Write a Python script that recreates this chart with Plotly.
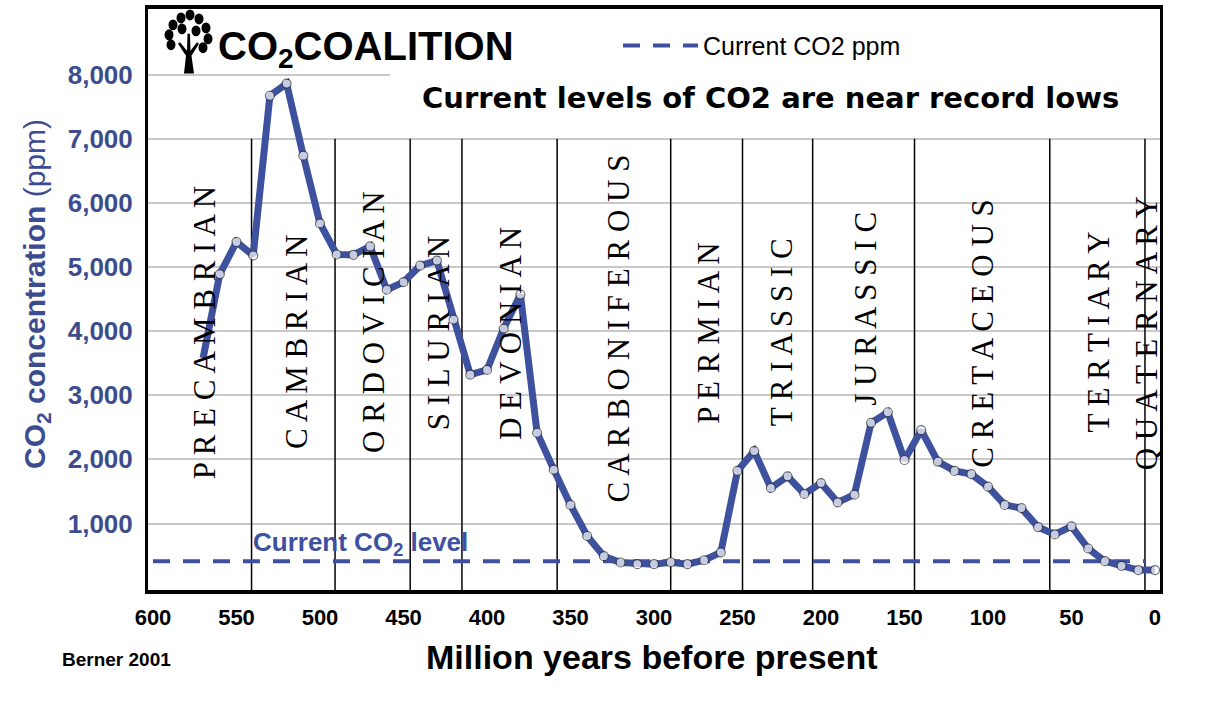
import plotly.graph_objects as go

# Berner 2001 CO2 reconstruction (million years ago / ppm)
ages = [570, 560, 550, 540, 530, 520, 510, 500, 490, 480,
        470, 460, 450, 440, 430, 420, 410, 400, 390, 380,
        370, 360, 350, 340, 330, 320, 310, 300, 290, 280,
        270, 260, 250, 240, 230, 220, 210, 200, 190, 180,
        170, 160, 150, 140, 130, 120, 110, 100, 90, 80,
        70, 60, 50, 40, 30, 20, 10, 0]
co2_ppm = [3580, 4890, 5390, 5180, 7670, 7860, 6735, 5680, 5195, 5190,
           5320, 4645, 4765, 5020, 5100, 4180, 3320, 3395, 4040, 4570,
           2415, 1840, 1290, 805, 490, 392, 366, 366, 396, 366,
           427, 550, 1820, 2130, 1555, 1735, 1460, 1630, 1330, 1450,
           2570, 2735, 1990, 2455, 1965, 1820, 1770, 1575, 1290, 1240,
           945, 830, 955, 610, 412, 340, 273, 273]

current_co2 = 410
current_span = [600, 6]

period_names = ['PRECAMBRIAN', 'CAMBRIAN', 'ORDOVICIAN', 'SILURIAN', 'DEVONIAN',
                'CARBONIFEROUS', 'PERMIAN', 'TRIASSIC', 'JURASSIC', 'CRETACEOUS',
                'TERTIARY', 'QUATERNARY']
period_bounds = [541, 491, 446, 415, 358, 290, 247, 205, 144, 63, 6]

x_ticks = [600, 550, 500, 450, 400, 350, 300, 250, 200, 150, 100, 50, 0]
y_ticks = [1000, 2000, 3000, 4000, 5000, 6000, 7000, 8000]

BLUE = '#3e519e'
TEXT_BLUE = '#3d4c8f'
SANS = 'Liberation Sans, Arial, sans-serif'

# where each period name sits (age, ppm)
label_pos = {
    'PRECAMBRIAN': (569, 3980), 'CAMBRIAN': (514, 3840), 'ORDOVICIAN': (468, 4150),
    'SILURIAN': (429, 3960), 'DEVONIAN': (386, 3960), 'CARBONIFEROUS': (321, 4040),
    'PERMIAN': (267, 3960), 'TRIASSIC': (224, 3980), 'JURASSIC': (173, 4350),
    'CRETACEOUS': (103, 3960), 'TERTIARY': (34, 3980), 'QUATERNARY': (5, 3960),
}

# plot area in pixels (for placing the logo and texts)
L, R, T, B = 148, 1160, 5, 590


def px_x(px):
    return (px - L) / (R - L)


def px_y(py):
    return (B - py) / (B - T)


fig = go.Figure()

fig.add_trace(go.Scatter(
    x=current_span, y=[current_co2] * len(current_span),
    mode='lines', name='Current CO2 ppm',
    line=dict(color=BLUE, width=4, dash='17px,13px'),
    hoverinfo='skip'
))

fig.add_trace(go.Scatter(
    x=ages, y=co2_ppm, mode='lines+markers', showlegend=False,
    line=dict(color=BLUE, width=7),
    marker=dict(size=[0] + [9] * (len(ages) - 1), color='white',
                line=dict(color='#333333', width=1.2)),
    name='CO2'
))

shapes = []
# hide the 8,000 gridline behind the title box
shapes.append(dict(type='rect', xref='x', yref='y', x0=458, x1=-3, y0=7500, y1=8600,
                   fillcolor='white', line=dict(width=0), layer='between'))
for b in period_bounds:
    shapes.append(dict(type='line', xref='x', yref='y', x0=b, x1=b, y0=-40, y1=7000,
                       line=dict(color='black', width=1.5), layer='between'))

# tree logo
trunk = [(184, 70), (194, 70), (191.5, 52), (199, 40), (197, 38.5), (190.5, 47),
         (190, 30), (187.5, 30), (187, 47), (180, 38.5), (178, 40), (186, 52)]
path = 'M' + 'L'.join(f'{px_x(a):.5f},{px_y(b):.5f}' for a, b in trunk) + 'Z'
shapes.append(dict(type='path', xref='paper', yref='paper', path=path,
                   fillcolor='black', line=dict(width=0)))
leaves = [(169, 31), (173, 21), (181, 14), (190, 11), (199, 15), (206, 24),
          (208, 35), (171, 41), (196, 27), (182, 25), (203, 44)]
for cx, cy in leaves:
    shapes.append(dict(type='circle', xref='paper', yref='paper',
                       x0=px_x(cx - 4.5), x1=px_x(cx + 4.5),
                       y0=px_y(cy + 5.5), y1=px_y(cy - 5.5),
                       fillcolor='black', line=dict(width=0)))

annotations = []
for name in period_names:
    ax, ay = label_pos[name]
    annotations.append(dict(x=ax, y=ay, xref='x', yref='y', text=' '.join(name),
                            textangle=-90, showarrow=False,
                            font=dict(family='Liberation Serif, Times New Roman, serif',
                                      size=31, color='black')))


def paper_note(px, py, text, size, color='black', family=SANS, angle=0):
    return dict(x=px_x(px), y=px_y(py), xref='paper', yref='paper',
                xanchor='center', yanchor='middle', textangle=angle,
                text=text, showarrow=False,
                font=dict(family=family, size=size, color=color))


annotations += [
    paper_note(366, 45, '<b>CO<sub>2</sub>COALITION</b>', 40),
    paper_note(770, 95, '<b>Current levels of CO2 are near record lows</b>', 29,
               family='DejaVu Sans, sans-serif'),
    dict(x=476, y=690, xref='x', yref='y',
         text='<b>Current CO<sub>2</sub> level</b>', showarrow=False,
         font=dict(family=SANS, size=26, color=BLUE)),
    paper_note(36, 292, '<b>CO<sub>2</sub> concentration</b> (ppm)', 30,
               color=TEXT_BLUE, angle=-90),
    paper_note(116, 660, '<b>Berner 2001</b>', 19),
    paper_note(652, 657, '<b>Million years before present</b>', 34),
]

fig.update_layout(
    width=1206, height=704,
    margin=dict(l=L, r=1206 - R, t=T, b=704 - B),
    paper_bgcolor='white', plot_bgcolor='white',
    xaxis=dict(
        range=[603, -3], tickvals=x_ticks, ticktext=[str(v) for v in x_ticks],
        showgrid=False, zeroline=False, ticks='', ticklabelstandoff=5,
        showline=True, linecolor='black', linewidth=4, mirror=True,
        tickfont=dict(family=SANS, size=22, color='black', weight='bold'),
    ),
    yaxis=dict(
        range=[-37, 9023], tickvals=y_ticks, tickformat=',d',
        showgrid=True, gridcolor='#c8c8c8', gridwidth=2, zeroline=False,
        ticks='', ticklabelstandoff=7,
        showline=True, linecolor='black', linewidth=3, mirror=True,
        tickfont=dict(family=SANS, size=26, color=TEXT_BLUE, weight='bold'),
    ),
    legend=dict(x=px_x(618), y=px_y(42), xanchor='left', yanchor='middle',
                bgcolor='rgba(0,0,0,0)', itemwidth=75,
                font=dict(family=SANS, size=25, color='black')),
    shapes=shapes,
    annotations=annotations,
)

# no modebar, and drop the default page margin so the figure sits at the corner
fig.write_html('out.html', config={'displayModeBar': False},
               post_script="document.body.style.margin='0';")
